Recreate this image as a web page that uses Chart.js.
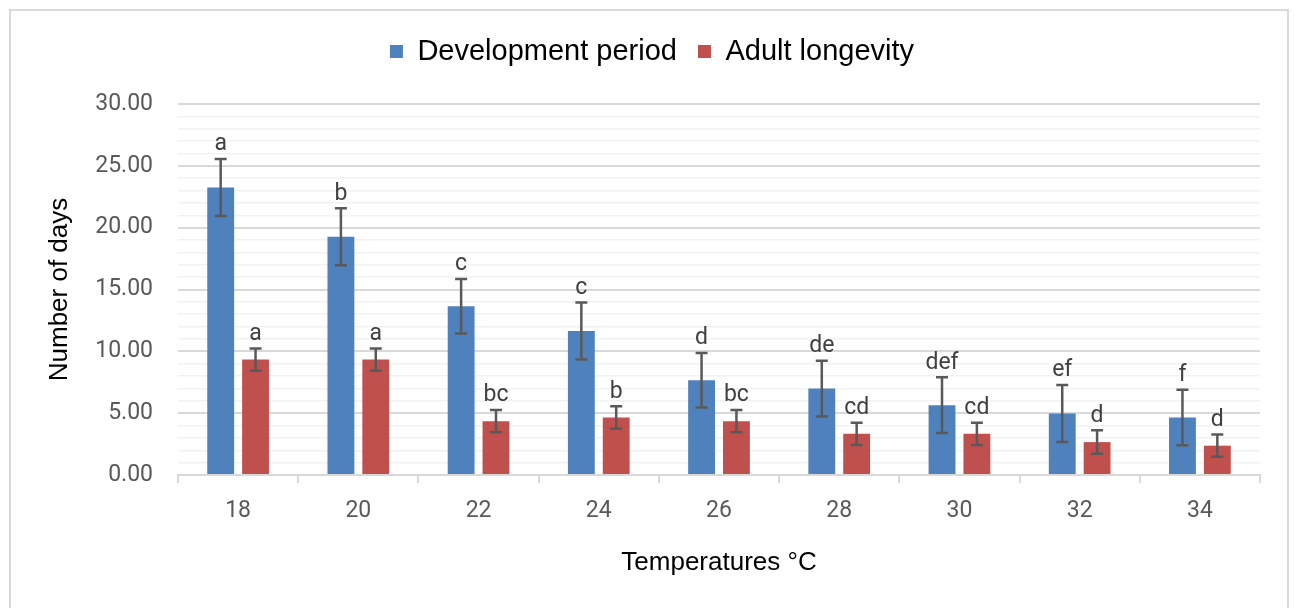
<!DOCTYPE html>
<html>
<head>
<meta charset="utf-8">
<script src="https://cdn.jsdelivr.net/npm/chart.js@4"></script>
<style>
  html, body { margin: 0; padding: 0; background: #fff; overflow: hidden; }
  #frame { position: absolute; left: 9px; top: 9px; width: 1280px; height: 640px; border: 2px solid #d9d9d9; box-sizing: border-box; }
  #chart { position: absolute; left: 0; top: 0; }
</style>
</head>
<body>
<div id="frame"></div>
<canvas id="chart" width="1295" height="608"></canvas>
<script>
// temperatures on the x axis
const temperatures = ['18', '20', '22', '24', '26', '28', '30', '32', '34'];

// means
const developmentPeriod = [23.25, 19.27, 13.65, 11.64, 7.66, 6.99, 5.65, 4.97, 4.65];
const adultLongevity = [9.33, 9.33, 4.35, 4.65, 4.35, 3.33, 3.33, 2.66, 2.37];

// error bar half-lengths
const developmentErr = [2.3, 2.3, 2.2, 2.3, 2.2, 2.25, 2.25, 2.3, 2.25];
const longevityErr = [0.9, 0.9, 0.9, 0.9, 0.9, 0.9, 0.9, 0.95, 0.9];

// significance letters
const developmentLetters = ['a', 'b', 'c', 'c', 'd', 'de', 'def', 'ef', 'f'];
const longevityLetters = ['a', 'a', 'bc', 'b', 'bc', 'cd', 'cd', 'd', 'd'];

const errors = [developmentErr, longevityErr];
const letters = [developmentLetters, longevityLetters];

const errorBars = {
  id: 'errorBars',
  afterDatasetsDraw(chart) {
    const ctx = chart.ctx;
    const y = chart.scales.y;
    chart.data.datasets.forEach((ds, i) => {
      const meta = chart.getDatasetMeta(i);
      meta.data.forEach((bar, j) => {
        const v = ds.data[j];
        const e = errors[i][j];
        const top = y.getPixelForValue(v + e);
        const bottom = y.getPixelForValue(v - e);
        ctx.save();
        ctx.strokeStyle = '#595959';
        ctx.lineWidth = 2.5;
        ctx.beginPath();
        ctx.moveTo(bar.x, top); ctx.lineTo(bar.x, bottom);
        ctx.moveTo(bar.x - 6, top); ctx.lineTo(bar.x + 6, top);
        ctx.moveTo(bar.x - 6, bottom); ctx.lineTo(bar.x + 6, bottom);
        ctx.stroke();
        ctx.fillStyle = '#404040';
        ctx.font = '23px Roboto';
        ctx.textAlign = 'center';
        ctx.textBaseline = 'bottom';
        ctx.fillText(letters[i][j], bar.x, top - 3);
        ctx.restore();
      });
    });
  }
};

// keep the plot area where the original has it
const legendSpace = {
  id: 'legendSpace',
  beforeInit(chart) {
    const fit = chart.legend.fit;
    chart.legend.fit = function () {
      fit.bind(chart.legend)();
      this.height = 88;
    };
  }
};

new Chart(document.getElementById('chart'), {
  type: 'bar',
  data: {
    labels: temperatures,
    datasets: [
      {
        label: 'Development period',
        data: developmentPeriod,
        backgroundColor: '#4f81bd',
        barPercentage: 0.77,
        categoryPercentage: 0.58
      },
      {
        label: 'Adult longevity',
        data: adultLongevity,
        backgroundColor: '#c0504d',
        barPercentage: 0.77,
        categoryPercentage: 0.58
      }
    ]
  },
  options: {
    responsive: false,
    animation: false,
    layout: { padding: { top: 16, left: 44, right: 35, bottom: 30 } },
    plugins: {
      legend: {
        position: 'top',
        labels: {
          boxWidth: 13,
          boxHeight: 13,
          padding: 21,
          color: '#000',
          font: { family: 'Liberation Sans', size: 29 }
        }
      },
      tooltip: { enabled: false }
    },
    scales: {
      x: {
        grid: { offset: true, drawOnChartArea: false, color: '#d9d9d9', lineWidth: 2, tickLength: 8 },
        border: { color: '#d9d9d9', width: 2 },
        ticks: { color: '#595959', padding: 14, font: { family: 'Roboto', size: 23 } },
        title: {
          display: true,
          text: 'Temperatures °C',
          color: '#000',
          padding: { top: 22, bottom: 0 },
          font: { family: 'Liberation Sans', size: 26 }
        },
        afterFit(s) { s.height = 103; }
      },
      y: {
        min: 0,
        max: 30,
        border: { display: false },
        grid: {
          drawTicks: false,
          color: c => c.tick.value % 5 === 0 ? '#d9d9d9' : '#f2f2f2',
          lineWidth: c => c.tick.value % 5 === 0 ? 2 : 1.5
        },
        ticks: {
          stepSize: 1,
          autoSkip: false,
          padding: 25,
          color: '#595959',
          font: { family: 'Roboto', size: 23 },
          callback: v => v % 5 === 0 ? v.toFixed(2) : ''
        },
        title: {
          display: true,
          text: 'Number of days',
          color: '#000',
          padding: 0,
          font: { family: 'Liberation Sans', size: 26 }
        },
        afterFit(s) { s.width = 134; }
      }
    }
  },
  plugins: [errorBars, legendSpace]
});
</script>
</body>
</html>
